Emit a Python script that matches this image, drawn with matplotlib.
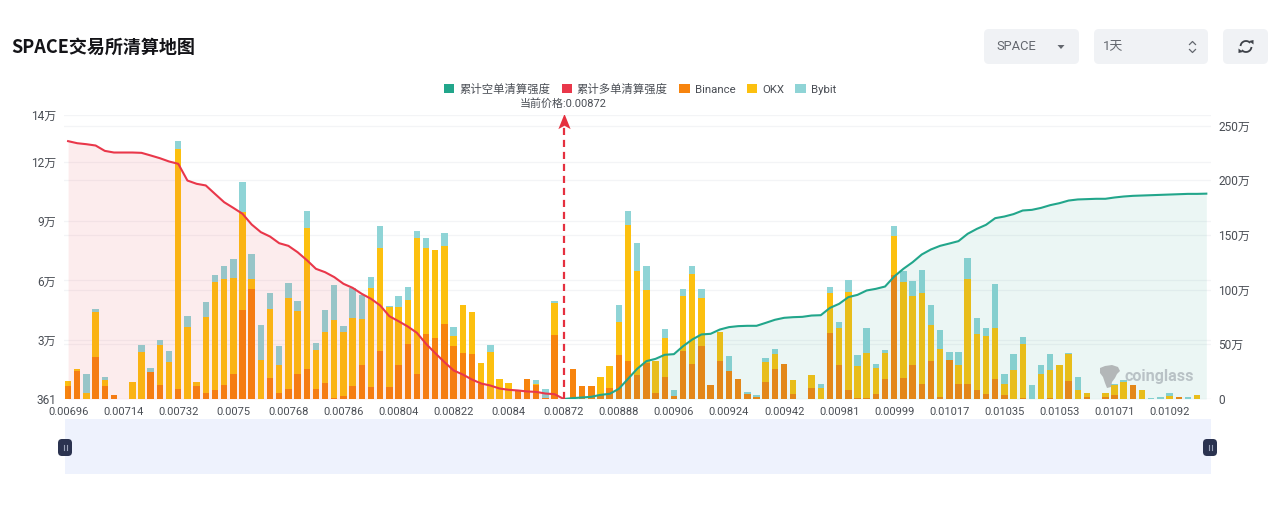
import matplotlib
matplotlib.use("Agg")
import numpy as np
import matplotlib.pyplot as plt
from matplotlib.patches import FancyBboxPatch, Patch, Polygon, Arc, Rectangle
from matplotlib.path import Path

FONT = ['Roboto', 'Noto Sans CJK SC', 'DejaVu Sans']
plt.rcParams['font.family'] = FONT

W, H = 1280, 514

tick_labels = ['0.00696', '0.00714', '0.00732', '0.0075', '0.00768', '0.00786', '0.00804',
               '0.00822', '0.0084', '0.00872', '0.00888', '0.00906', '0.00924', '0.00942',
               '0.00981', '0.00999', '0.01017', '0.01035', '0.01053', '0.01071', '0.01092']

# Liquidation strength per price level, in thousands
binance = [6.8, 14.4, 0, 21.5, 6.8, 2.2, 0, 0, 0, 13.9, 7.4, 0, 5.6, 0, 7.1, 3.2, 5, 7.6, 13, 45.5,
           55.8, 0.5, 10.8, 3.2, 5.4, 13, 15.6, 5.2, 8.6, 1, 1.9, 6.8, 17.4, 6.4, 24.7, 6.4, 17.8, 28,
           12.9, 33.5, 31.3, 38.2, 27.2, 23.4, 23, 8.1, 0, 0, 0, 4.7, 10.7, 7.3, 1, 32.7, 0, 15.7, 6.8,
           6.8, 2.2, 6.1, 22.5, 19.5, 12.4, 18.6, 3.4, 11.5, 1.7, 24.7, 18.3, 27, 7.3, 19.6, 14.4, 10.7,
           2.7, 1.4, 9, 15.4, 18.3, 3, 0, 6.1, 0, 34, 17.4, 4.7, 1, 0.7, 2.7, 10.7, 63, 11, 17.8, 8.1,
           19.6, 1.4, 20, 8.1, 7.8, 4.7, 2.7, 10.3, 2.2, 0, 1, 0, 0, 0.8, 0, 9.5, 0, 1.4, 0, 1.4, 2.4,
           0, 7.3, 0, 0, 0, 0.3, 1.4, 0, 0]
okx = [2.5, 1.2, 3.4, 22.8, 3.2, 0, 0, 8.8, 24, 0, 20.3, 19, 121.4, 37, 1.7, 38.6, 54.6, 53.7, 48.6, 49.5,
       5.2, 19.5, 35.2, 14.6, 46.2, 31.7, 71.4, 20.2, 25.7, 39.6, 32.4, 34.5, 23.6, 50.3, 51.9, 40.3, 29.2, 22.4,
       68.8, 43.1, 44.5, 39.6, 5.1, 24.5, 21.5, 10.5, 24.2, 10.5, 8.5, 0, 0, 0.5, 0, 16.3, 0, 0, 0,
       0, 9.3, 10.8, 16.9, 69, 52.7, 36.9, 16.1, 19.5, 0, 27.9, 45.3, 24.6, 0, 14.7, 0, 0,
       0, 0, 10.1, 7.6, 0, 7.2, 0, 6.3, 6.1, 20.1, 18.8, 49.6, 16, 22.7, 13.3, 13, 20, 48.7, 34.7, 45.9,
       18.4, 24.5, 0, 9.7, 53.2, 28.8, 29.6, 26.1, 5.9, 14.9, 27, 0.5, 13.2, 14.1, 17.4, 13.5, 4.7, 2, 0, 2.2, 4.9,
       9, 0, 4.7, 0.2, 0.5, 1.7, 0, 0, 2.4]
bybit = [0, 0, 9.6, 1.6, 1.5, 0, 0, 0, 3.7, 2, 2.6, 5.7, 4, 5.5, 0, 7.9, 3.4, 6.2, 9.8, 15,
         12.8, 18, 8, 9.6, 7.6, 5.3, 8.4, 3.5, 11.2, 17.6, 3.1, 15, 12, 5.3, 11.4, 0.8, 5.4, 6.8,
         3.7, 5.1, 0, 6.5, 4.6, 0, 0, 0, 3.4, 0, 0, 0, 0, 2, 4.6, 1, 0, 0, 0,
         0, 0, 0, 8.6, 6.8, 14.1, 12.4, 0, 5, 3, 3.2, 4.1, 4.2, 0, 0, 7.6, 0,
         1.2, 0.8, 2.2, 2.5, 0, 0, 0.2, 0, 1.7, 2.8, 3.2, 6.3, 5.5, 13, 2.3, 1.3, 5, 5.4, 7.5, 11.7,
         9.9, 9.3, 4.2, 6.4, 10.6, 8, 4.1, 22.1, 5.1, 8.1, 3.8, 6.8, 4.2, 8.1, 0, 0.4, 6.8, 0, 0, 0, 0.5,
         0.8, 0, 0, 0.6, 0.9, 1.6, 0, 1.4, 0]

# Cumulative strength in units of 10k, long side down to the current price then short side up
cum_long = [235.7, 233.8, 232.9, 231.7, 226.8, 225.3, 225.3, 225.3, 225, 222.6, 220.1, 217.1, 215, 199.7,
            196.7, 195.2, 187.5, 179.9, 174.7, 169.3, 159.5, 152.5, 148.5, 142.4, 140, 134.2, 127, 119,
            115.9, 111.4, 105.3, 101.6, 96.1, 91.6, 85.5, 75.7, 71.1, 66.3, 60.5, 50.4, 41.9, 33.7, 26.1,
            22.4, 17.8, 14.2, 12.3, 9.6, 8.4, 7.8, 6.9, 6.5, 5, 4.4, 0]
cum_short = [0, 0.8, 1.4, 2, 3.8, 4.7, 9.3, 18.4, 27.6, 34.6, 36.7, 40.4, 41, 48.3, 54.4, 59, 59.6, 63.5,
             65.7, 66.6, 66.9, 66.9, 69.6, 72.4, 74.2, 74.8, 75.1, 76.3, 76.6, 83.3, 87, 93.1, 95.2, 99.2,
             100.7, 102.8, 112, 119, 125, 132.1, 136.7, 140, 142.1, 144.3, 151, 155.5, 159.2, 165.3, 166.8,
             169, 172.3, 172.9, 174.7, 177.2, 179, 181.4, 182.4, 182.7, 183, 183, 184.2, 185.1, 185.7, 186,
             186.3, 186.6, 186.9, 187.2, 187.5, 187.5, 187.7]

left_ticks = [361, 30361, 60361, 90361, 120361, 144361]
left_labels = ['361', '3万', '6万', '9万', '12万', '14万']
right_ticks = [0, 50, 100, 150, 200, 250]
right_labels = ['0', '50万', '100万', '150万', '200万', '250万']
current_index = 54
current_price = '0.00872'

C_BIN, C_OKX, C_BYB = '#F7840E', '#FCC00F', '#8FD4D6'
C_SHORT, C_LONG = '#22A68B', '#E9374A'
TICK_C = '#4A4E55'
GRID_C = '#F3F4F6'


def px_rect(l, t, r, b):
    return [l / W, 1 - b / H, (r - l) / W, (b - t) / H]


fig = plt.figure(figsize=(W / 100, H / 100), dpi=100, facecolor='white')

# Page furniture is laid out on an overlay in pixel units
ui = fig.add_axes([0, 0, 1, 1], zorder=0)
ui.set_xlim(0, W)
ui.set_ylim(H, 0)
ui.axis('off')


def box(l, t, r, b, color, rad=5):
    ui.add_patch(FancyBboxPatch((l + rad, t + rad), r - l - 2 * rad, b - t - 2 * rad,
                                boxstyle=f'round,pad={rad},rounding_size={rad}',
                                fc=color, ec='none'))


ui.text(11.5, 47.5, 'SPACE交易所清算地图', fontsize=13, fontweight='bold', color='#141418',
        va='center', ha='left', family=['Noto Sans CJK SC', 'DejaVu Sans'])

CTRL = '#F0F2F5'
box(984, 29, 1079, 64, CTRL)
box(1094, 29, 1208, 64, CTRL)
box(1223, 29, 1268, 64, CTRL)
ui.text(996, 46.5, 'SPACE', fontsize=9.3, color='#63676e', va='center', ha='left')
ui.text(1103, 46.5, '1天', fontsize=9.3, color='#63676e', va='center', ha='left')
ui.add_patch(Polygon([[1057.5, 45], [1064.5, 45], [1061, 49]], fc='#63676e', ec='none'))
ui.plot([1189.5, 1192.5, 1195.5], [44.5, 41.5, 44.5], color='#63676e', lw=0.9)
ui.plot([1189.5, 1192.5, 1195.5], [49.5, 52.5, 49.5], color='#63676e', lw=0.9)
# Refresh icon: two opposing arcs with small arrow heads
ui.add_patch(Arc((1246, 46.5), 11, 11, theta1=185, theta2=320, color='#3d4148', lw=1.3))
ui.add_patch(Arc((1246, 46.5), 11, 11, theta1=5, theta2=140, color='#3d4148', lw=1.3))
ui.add_patch(Polygon([[1249, 41], [1253.5, 44.5], [1253.5, 40]], fc='#3d4148', ec='none'))
ui.add_patch(Polygon([[1243, 52], [1238.5, 48.5], [1238.5, 53]], fc='#3d4148', ec='none'))

# Range slider under the chart
ui.add_patch(Rectangle((65, 419), 1146, 55, fc='#EEF2FD', ec='none'))
for cx in (65, 1210):
    box(cx - 7, 439, cx + 7, 456, '#2B3350', rad=4)
    ui.plot([cx - 1.5, cx - 1.5], [445, 450], color='#9aa2b8', lw=0.8)
    ui.plot([cx + 1.5, cx + 1.5], [445, 450], color='#9aa2b8', lw=0.8)

# Main plotting area: price bands, the last one left open for the cumulative curve
x_lim = (-0.5, 124.5)
left_lim = (361, 144361)
right_lim = (0, 284.5 / 1.094)
ax = fig.add_axes(px_rect(63.5, 114.5, 1210.9, 399), zorder=2)
ax.patch.set_alpha(0)
ax.set_xlim(*x_lim)
ax.set_ylim(*left_lim)
for s in ax.spines.values():
    s.set_visible(False)

ax2 = fig.add_axes(px_rect(63.5, 114.5, 1210.9, 399), zorder=3)
ax2.patch.set_alpha(0)
ax2.set_xlim(*x_lim)
ax2.set_ylim(*right_lim)
for s in ax2.spines.values():
    s.set_visible(False)

x = np.arange(len(binance))
bin_v = np.array(binance) * 1000
okx_v = np.array(okx) * 1000
byb_v = np.array(bybit) * 1000
bar_w = 0.7
ax.bar(x, bin_v, bar_w, color=C_BIN, zorder=3)
ax.bar(x, okx_v, bar_w, bottom=bin_v, color=C_OKX, zorder=3)
ax.bar(x, byb_v, bar_w, bottom=bin_v + okx_v, color=C_BYB, zorder=3)

ax.set_yticks(left_ticks)
ax.set_yticklabels(left_labels)
ax.set_xticks(x[::6][:len(tick_labels)])
ax.set_xticklabels(tick_labels)
ax.tick_params(axis='both', length=0, labelsize=8, colors=TICK_C)
ax.tick_params(axis='y', pad=5.3, labelsize=8.6)
ax.tick_params(axis='x', pad=6)
ax.grid(axis='y', color=GRID_C, lw=0.9, zorder=0)
ax.set_axisbelow(True)
# Right-axis gridlines sit below the bars, so they are drawn on the bar axes
to_left = (left_lim[1] - left_lim[0]) / (right_lim[1] - right_lim[0])
for v in right_ticks:
    ax.axhline(left_lim[0] + v * to_left, color=GRID_C, lw=0.9, zorder=0)

x_long = np.arange(len(cum_long))
x_short = np.arange(len(cum_short)) + current_index
ax2.fill_between(x_long, 0, cum_long, color=C_LONG, alpha=0.095, lw=0, zorder=4)
ax2.fill_between(x_short, 0, cum_short, color=C_SHORT, alpha=0.09, lw=0, zorder=4)
ax2.plot(x_long, cum_long, color=C_LONG, lw=1.5, zorder=5)
ax2.plot(x_short, cum_short, color=C_SHORT, lw=1.5, zorder=5)
ax2.set_xticks([])
ax2.yaxis.tick_right()
ax2.set_yticks(right_ticks)
ax2.set_yticklabels(right_labels)
ax2.tick_params(axis='y', length=0, labelsize=8.6, colors=TICK_C, pad=5.5)

# Current price marker: dashed line capped by a notched arrow head
arrow = Path([(0, 1), (-0.8, -1), (0, -0.55), (0.8, -1), (0, 1)],
             [Path.MOVETO, Path.LINETO, Path.LINETO, Path.LINETO, Path.CLOSEPOLY])
ax2.plot([current_index, current_index], [0, 252], color='#E5303F', lw=1.6,
         linestyle=(0, (3.2, 2.2)), zorder=6)
ax2.plot([current_index], [254], marker=arrow, markersize=11, color='#E5303F',
         markeredgewidth=0, zorder=7)

ui_top = fig.add_axes([0, 0, 1, 1], zorder=4)
ui_top.set_xlim(0, W)
ui_top.set_ylim(H, 0)
ui_top.axis('off')
ui_top.text(563.5, 103.5, f'当前价格:{current_price}', fontsize=7.9, color='#4A4E55',
            ha='center', va='center')

# Watermark
blob = [[1100, 368], [1105, 366], [1112, 365], [1118, 367], [1120, 371], [1117, 374], [1115, 378],
        [1112, 382], [1111, 387], [1107, 388], [1105, 383], [1103, 377], [1100, 373]]
ui_top.add_patch(Polygon(blob, fc='#A9ACAE', ec='none', alpha=0.85))
ui_top.text(1124.5, 376.5, 'coinglass', fontsize=11.6, fontweight='bold', color='#B4BDC1',
            alpha=0.9, ha='left', va='center', family='Roboto')

handles = [Patch(fc=C_SHORT), Patch(fc=C_LONG), Patch(fc=C_BIN), Patch(fc=C_OKX), Patch(fc=C_BYB)]
names = ['累计空单清算强度', '累计多单清算强度', 'Binance', 'OKX', 'Bybit']
leg = fig.legend(handles, names, loc='center', bbox_to_anchor=(640 / W, 1 - 89 / H), ncols=5,
                 frameon=False, fontsize=8.2, handlelength=0.9, handleheight=0.9,
                 handletextpad=0.45, columnspacing=1.0, labelcolor='#4A4E55', borderpad=0)

fig.savefig('out.png', dpi=100, facecolor='white')
